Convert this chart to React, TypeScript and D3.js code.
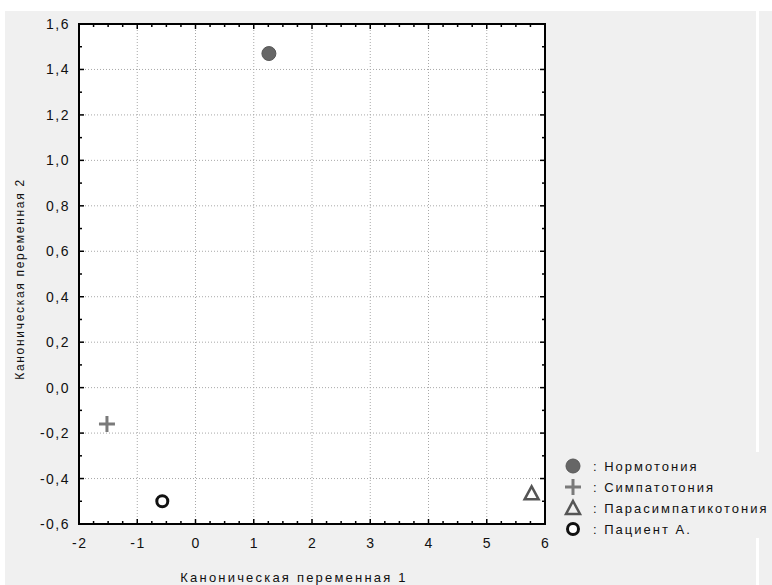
import React from "react";
import * as d3 from "d3";

const groups = ["Нормотония", "Симпатотония", "Парасимпатикотония", "Пациент А."];
const xValues = [1.26, -1.52, 5.77, -0.57];
const yValues = [1.47, -0.16, -0.465, -0.5];
const symbols = ["filledCircle", "plus", "triangle", "openCircle"];
const xTicks = [-2, -1, 0, 1, 2, 3, 4, 5, 6];
const yTicks = [-0.6, -0.4, -0.2, 0, 0.2, 0.4, 0.6, 0.8, 1.0, 1.2, 1.4, 1.6];
const xTitle = "Каноническая переменная 1";
const yTitle = "Каноническая переменная 2";

const W = 772, H = 585;
const L = 79, R = 545, T = 24, B = 524;
const FONT = "'Liberation Sans', Arial, sans-serif";

function Marker({ kind, cx, cy }: { kind: string; cx: number; cy: number }) {
  if (kind === "filledCircle") return <circle cx={cx} cy={cy} r={7} fill="#666" stroke="#575757" strokeWidth={1} />;
  if (kind === "plus")
    return (
      <g stroke="#7a7a7a" strokeWidth={3}>
        <line x1={cx - 8} x2={cx + 8} y1={cy} y2={cy} />
        <line x1={cx} x2={cx} y1={cy - 8} y2={cy + 8} />
      </g>
    );
  if (kind === "triangle") {
    const p = d3.path();
    p.moveTo(cx, cy - 7);
    p.lineTo(cx + 7, cy + 6);
    p.lineTo(cx - 7, cy + 6);
    p.closePath();
    return <path d={p.toString()} fill="none" stroke="#555" strokeWidth={2.5} />;
  }
  return <circle cx={cx} cy={cy} r={5.5} fill="white" stroke="#111" strokeWidth={3} />;
}

export default function App() {
  const x = d3.scaleLinear().domain([-2, 6]).range([L, R]);
  const y = d3.scaleLinear().domain([-0.6, 1.6]).range([B, T]);
  const xMinor = d3.range(-2, 6.001, 0.25);
  const yMinor = d3.range(-0.6, 1.6001, 0.1);
  const fmt = (v: number) => d3.format(".1f")(v).replace(".", ",").replace("−", "-");

  return (
    <svg width={W} height={H} style={{ position: "absolute", left: 0, top: 0, fontFamily: FONT }}>
      <rect x={0} y={0} width={W} height={H} fill="white" />
      <rect x={5} y={11} width={751} height={H - 11} fill="#f0f0f0" />
      <rect x={759} y={11} width={W - 759} height={H - 11} fill="#f0f0f0" />
      {/* legend background */}
      <rect x={548} y={452} width={W - 548} height={86} fill="#f0f0f0" />

      <rect x={L} y={T} width={R - L} height={B - T} fill="white" />
      {xTicks.map((t) => (
        <line key={"gx" + t} x1={x(t)} x2={x(t)} y1={T} y2={B} stroke="#a8a8a8" strokeDasharray="1,2" />
      ))}
      {yTicks.map((t) => (
        <line key={"gy" + t} x1={L} x2={R} y1={y(t)} y2={y(t)} stroke="#a8a8a8" strokeDasharray="1,2" />
      ))}

      {/* ticks */}
      <g stroke="#000" strokeWidth={1.5}>
        {xMinor.map((t, i) => {
          const len = i % 4 === 0 ? 5 : 3;
          return (
            <g key={"xt" + i}>
              <line x1={x(t)} x2={x(t)} y1={B} y2={B - len} />
              <line x1={x(t)} x2={x(t)} y1={T} y2={T + len} />
            </g>
          );
        })}
        {yMinor.map((t, i) => {
          const len = i % 2 === 0 ? 5 : 3;
          return (
            <g key={"yt" + i}>
              <line x1={L} x2={L + len} y1={y(t)} y2={y(t)} />
              <line x1={R} x2={R - len} y1={y(t)} y2={y(t)} />
            </g>
          );
        })}
      </g>
      <rect x={L} y={T} width={R - L} height={B - T} fill="none" stroke="#000" strokeWidth={2} />

      {/* tick labels */}
      {yTicks.map((t) => (
        <text key={"yl" + t} x={70} y={y(t)} dy="0.36em" textAnchor="end" fontSize={14} letterSpacing={1.5} fill="#111">
          {fmt(t)}
        </text>
      ))}
      {xTicks.map((t) => (
        <text key={"xl" + t} x={x(t) + 0.75} y={548} textAnchor="middle" fontSize={14} letterSpacing={1.5} fill="#111">
          {String(t)}
        </text>
      ))}

      <text x={294} y={582} textAnchor="middle" fontSize={13} letterSpacing={2.2} fill="#111">
        {xTitle}
      </text>
      <text transform={`translate(24,279) rotate(-90)`} textAnchor="middle" fontSize={12} letterSpacing={1.7} fill="#111">
        {yTitle}
      </text>

      {/* points */}
      {groups.map((g, i) => (
        <Marker key={g} kind={symbols[i]} cx={x(xValues[i])} cy={y(yValues[i])} />
      ))}

      {/* legend */}
      {groups.map((g, i) => (
        <g key={"lg" + g} transform={`translate(0,${466 + i * 21})`}>
          <Marker kind={symbols[i]} cx={573} cy={0} />
          <text x={593} y={0} dy="0.36em" fontSize={13} letterSpacing={2} fill="#111">
            {": " + g}
          </text>
        </g>
      ))}
    </svg>
  );
}
